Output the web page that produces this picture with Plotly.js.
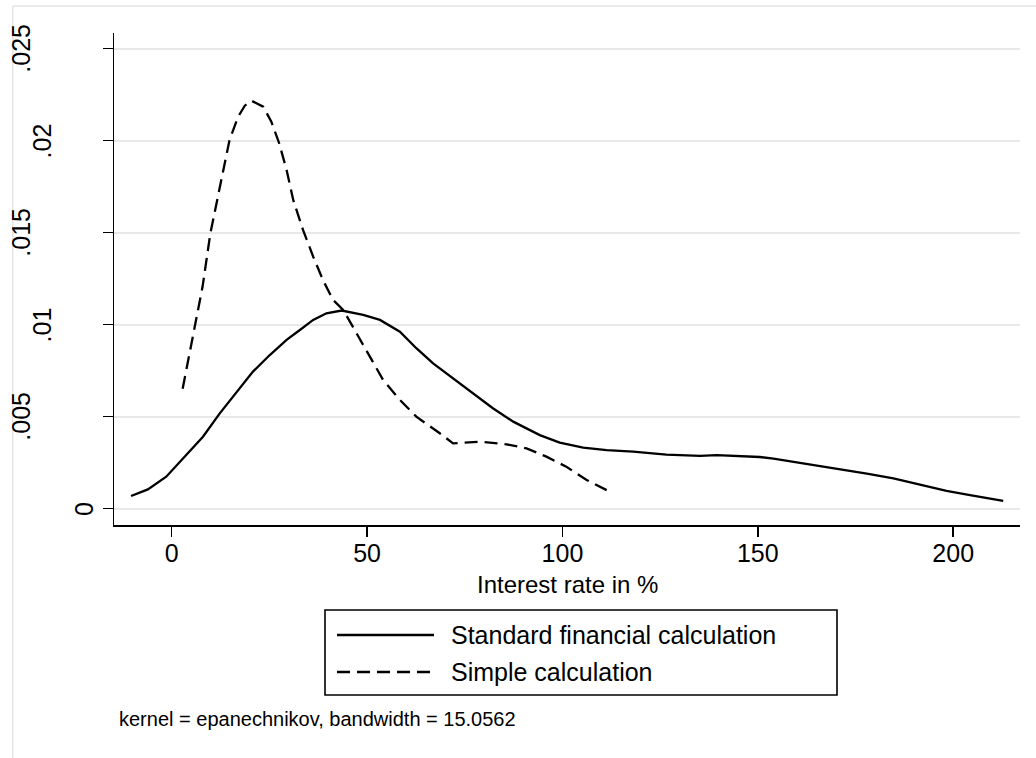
<!DOCTYPE html>
<html>
<head>
<meta charset="utf-8">
<script src="https://cdn.plot.ly/plotly-3.0.1.min.js"></script>
<style>html,body{margin:0;padding:0;background:#fff;}#chart{width:1036px;height:758px;}</style>
</head>
<body>
<div id="chart"></div>
<script>
// ---- data ----
const seriesNames = ["Standard financial calculation", "Simple calculation"];

const standardX = [-10.4, -6.1, -1.4, 3.8, 8.0, 12.3, 16.6, 20.8, 25.1, 29.4, 32.8, 36.2, 39.6, 43.5, 49.0, 53.3, 58.4, 62.6, 66.9, 72.0, 77.1, 82.2, 87.4, 94.2, 99.3, 105.3, 111.3, 118.1, 126.6, 135.2, 139.5, 150.5, 154.0, 160.8, 167.6, 171.9, 177.9, 184.7, 191.5, 198.3, 204.3, 212.8];
const standardY = [0.00069, 0.00105, 0.00174, 0.00292, 0.00391, 0.00518, 0.00636, 0.00745, 0.00835, 0.00917, 0.00971, 0.01026, 0.01062, 0.01077, 0.01053, 0.01026, 0.00962, 0.00872, 0.0079, 0.00709, 0.00627, 0.00546, 0.00473, 0.004, 0.00359, 0.00332, 0.00318, 0.0031, 0.00294, 0.00287, 0.00291, 0.00281, 0.00272, 0.00249, 0.00227, 0.00214, 0.0019, 0.00165, 0.0013, 0.00097, 0.00074, 0.00043];

const simpleX = [2.8, 4.2, 5.9, 7.9, 9.9, 12.3, 14.8, 17.0, 18.7, 20.4, 23.4, 25.5, 27.5, 29.4, 31.1, 33.6, 36.2, 38.7, 41.3, 43.9, 49.8, 54.1, 58.4, 62.6, 68.6, 72.0, 78.9, 85.7, 90.8, 95.9, 101.0, 106.2, 112.9];
const simpleY = [0.00652, 0.00808, 0.00989, 0.01207, 0.01497, 0.0175, 0.02004, 0.0213, 0.0219, 0.02217, 0.02185, 0.02103, 0.01986, 0.01841, 0.01678, 0.01515, 0.0137, 0.01243, 0.01134, 0.0108, 0.00863, 0.007, 0.00591, 0.005, 0.0041, 0.00355, 0.00364, 0.0035, 0.00328, 0.00283, 0.00228, 0.00156, 0.00084];

const xTickVals = [0, 50, 100, 150, 200];
const xTickText = ["0", "50", "100", "150", "200"];
const yTickVals = [0, 0.005, 0.01, 0.015, 0.02, 0.025];
const yTickText = ["0", ".005", ".01", ".015", ".02", ".025"];

const xTitle = "Interest rate in %";
const noteText = "kernel = epanechnikov, bandwidth = 15.0562";

// ---- layout geometry ----
const W = 1036, H = 758;
const M = {l: 114, r: 16, t: 33, b: 233};
const PW = W - M.l - M.r, PH = H - M.t - M.b;
const px = v => (v - M.l) / PW;          // pixel -> paper x
const py = v => (H - M.b - v) / PH;      // pixel -> paper y
const FONT = "Liberation Sans, Arial, sans-serif";
const DASH = "13px,7px";

const traces = [
  {x: standardX, y: standardY, type: "scatter", mode: "lines", name: seriesNames[0],
   line: {color: "#000", width: 2.3, shape: "linear"}, showlegend: false, hoverinfo: "skip"},
  {x: simpleX, y: simpleY, type: "scatter", mode: "lines", name: seriesNames[1],
   line: {color: "#000", width: 2.3, dash: DASH}, showlegend: false, hoverinfo: "skip"}
];

const annotations = [];
// y tick labels, rotated, positioned by label length like the reference
yTickVals.forEach((v, i) => {
  const n = yTickText[i].length;
  annotations.push({xref: "paper", yref: "y", x: 0, y: v, text: yTickText[i], showarrow: false,
    textangle: -90, xanchor: "center", yanchor: "middle", xshift: -10 - 20.75 * n,
    font: {family: FONT, size: 25, color: "#000"}});
});
// x axis title
annotations.push({xref: "paper", yref: "paper", x: 0.5, y: py(584), text: xTitle, showarrow: false,
  xanchor: "center", yanchor: "middle", font: {family: FONT, size: 24, color: "#000"}});
// legend texts
annotations.push({xref: "paper", yref: "paper", x: px(449), y: py(635), text: seriesNames[0], showarrow: false,
  xanchor: "left", yanchor: "middle", font: {family: FONT, size: 25, color: "#000"}});
annotations.push({xref: "paper", yref: "paper", x: px(449), y: py(672), text: seriesNames[1], showarrow: false,
  xanchor: "left", yanchor: "middle", font: {family: FONT, size: 25, color: "#000"}});
// note
annotations.push({xref: "paper", yref: "paper", x: px(117), y: py(719), text: noteText, showarrow: false,
  xanchor: "left", yanchor: "middle", font: {family: FONT, size: 20, color: "#000"}});

const shapes = [
  // outer frame (top & left edges visible)
  {type: "line", xref: "paper", yref: "paper", x0: px(12.7), x1: px(1040), y0: py(6), y1: py(6), line: {color: "#e4e4e4", width: 1.5}},
  {type: "line", xref: "paper", yref: "paper", x0: px(12.7), x1: px(12.7), y0: py(6), y1: py(760), line: {color: "#e4e4e4", width: 1.5}},
  // legend box
  {type: "rect", xref: "paper", yref: "paper", x0: px(325), x1: px(837), y0: py(610), y1: py(695), line: {color: "#000", width: 1.6}, fillcolor: "rgba(0,0,0,0)"},
  {type: "line", xref: "paper", yref: "paper", x0: px(337), x1: px(434), y0: py(635), y1: py(635), line: {color: "#000", width: 2.3}},
  {type: "line", xref: "paper", yref: "paper", x0: px(337), x1: px(434), y0: py(672), y1: py(672), line: {color: "#000", width: 2.3, dash: DASH}}
];

const layout = {
  width: W, height: H,
  margin: M,
  paper_bgcolor: "#fff", plot_bgcolor: "#fff",
  showlegend: false,
  font: {family: FONT, size: 25, color: "#000"},
  xaxis: {
    range: [-14.77, 217.1], autorange: false,
    tickvals: xTickVals, ticktext: xTickText,
    ticks: "outside", ticklen: 10, tickwidth: 1.5, tickcolor: "#000",
    ticklabelstandoff: -5,
    showline: true, linecolor: "#000", linewidth: 1.5,
    showgrid: false, zeroline: false,
    tickfont: {family: FONT, size: 25, color: "#000"},
    automargin: false
  },
  yaxis: {
    range: [-0.000886, 0.02585], autorange: false,
    tickvals: yTickVals, ticktext: yTickText, showticklabels: false,
    ticks: "outside", ticklen: 10, tickwidth: 1.5, tickcolor: "#000",
    showline: true, linecolor: "#000", linewidth: 1.5,
    showgrid: true, gridcolor: "#e8e8e8", gridwidth: 2,
    zeroline: false, automargin: false
  },
  annotations: annotations,
  shapes: shapes
};

Plotly.newPlot("chart", traces, layout, {displayModeBar: false, staticPlot: true});
</script>
</body>
</html>
